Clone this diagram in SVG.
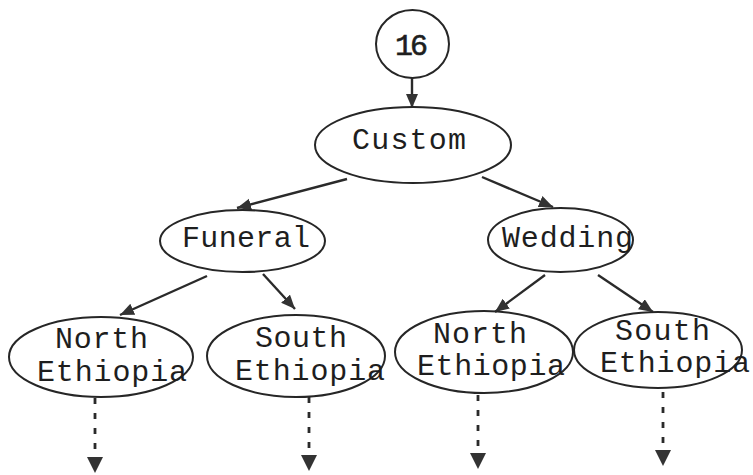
<svg xmlns="http://www.w3.org/2000/svg" width="753" height="475" viewBox="0 0 753 475">
  <style>
    .node { fill: none; stroke: #262626; stroke-width: 2; }
    .label { font-family: "Liberation Mono", "DejaVu Sans Mono", monospace; font-size: 30px; fill: #1e1e1e; }
    .edge { stroke: #2a2a2a; stroke-width: 2.4; fill: none; }
    .dotted { stroke: #2a2a2a; stroke-width: 2.8; fill: none; stroke-dasharray: 6 9; }
  </style>
  <defs>
    <marker id="arrow" markerUnits="userSpaceOnUse" markerWidth="16" markerHeight="14" refX="14" refY="6" orient="auto">
      <path d="M0,0 L14,6 L0,12 Z" fill="#333"/>
    </marker>
    <marker id="drop" markerUnits="userSpaceOnUse" markerWidth="18" markerHeight="18" refX="0" refY="8" orient="auto">
      <path d="M0,0 L16,8 L0,16 Z" fill="#333"/>
    </marker>
  </defs>

  <g id="connectors">
    <line class="edge" x1="412" y1="78" x2="412" y2="108" marker-end="url(#arrow)"/>
    <line class="edge" x1="347" y1="179" x2="237" y2="208" marker-end="url(#arrow)"/>
    <line class="edge" x1="482" y1="177" x2="553" y2="207" marker-end="url(#arrow)"/>
    <line class="edge" x1="207" y1="276" x2="120" y2="315" marker-end="url(#arrow)"/>
    <line class="edge" x1="263" y1="274" x2="295" y2="309" marker-end="url(#arrow)"/>
    <line class="edge" x1="545" y1="275" x2="495" y2="312" marker-end="url(#arrow)"/>
    <line class="edge" x1="598" y1="275" x2="653" y2="312" marker-end="url(#arrow)"/>
    <line class="dotted" x1="95" y1="398" x2="95" y2="457" marker-end="url(#drop)"/>
    <line class="dotted" x1="309" y1="397" x2="309" y2="455" marker-end="url(#drop)"/>
    <line class="dotted" x1="478" y1="395" x2="478" y2="453" marker-end="url(#drop)"/>
    <line class="dotted" x1="663" y1="392" x2="663" y2="450" marker-end="url(#drop)"/>
  </g>

  <g id="n16">
    <ellipse class="node" cx="412.5" cy="44" rx="36.5" ry="34"/>
    <text class="label" x="395" y="55" textLength="33" lengthAdjust="spacing" stroke="#1e1e1e" stroke-width="0.6">16</text>
  </g>

  <g id="custom">
    <ellipse class="node" cx="413" cy="145" rx="98" ry="38"/>
    <text class="label" x="352" y="149" textLength="114" lengthAdjust="spacing">Custom</text>
  </g>

  <g id="funeral">
    <ellipse class="node" cx="242.5" cy="241" rx="82.5" ry="31"/>
    <text class="label" x="182" y="247" textLength="128" lengthAdjust="spacing">Funeral</text>
  </g>

  <g id="wedding">
    <ellipse class="node" cx="560.5" cy="240" rx="72.5" ry="32"/>
    <text class="label" x="502" y="247" textLength="131" lengthAdjust="spacing">Wedding</text>
  </g>

  <g id="funeral-north">
    <ellipse class="node" cx="101" cy="357" rx="92" ry="40"/>
    <text class="label" x="55" y="348" textLength="93" lengthAdjust="spacing">North</text>
    <text class="label" x="37" y="381" textLength="150" lengthAdjust="spacing">Ethiopia</text>
  </g>

  <g id="funeral-south">
    <ellipse class="node" cx="296" cy="356" rx="89" ry="41"/>
    <text class="label" x="255" y="347" textLength="92" lengthAdjust="spacing">South</text>
    <text class="label" x="235" y="380" textLength="150" lengthAdjust="spacing">Ethiopia</text>
  </g>

  <g id="wedding-north">
    <ellipse class="node" cx="484" cy="352" rx="89" ry="41"/>
    <text class="label" x="433" y="343" textLength="94" lengthAdjust="spacing">North</text>
    <text class="label" x="417" y="375" textLength="148" lengthAdjust="spacing">Ethiopia</text>
  </g>

  <g id="wedding-south">
    <ellipse class="node" cx="658" cy="350" rx="84" ry="38"/>
    <text class="label" x="615" y="340" textLength="95" lengthAdjust="spacing">South</text>
    <text class="label" x="600" y="372" textLength="150" lengthAdjust="spacing">Ethiopia</text>
  </g>
</svg>
